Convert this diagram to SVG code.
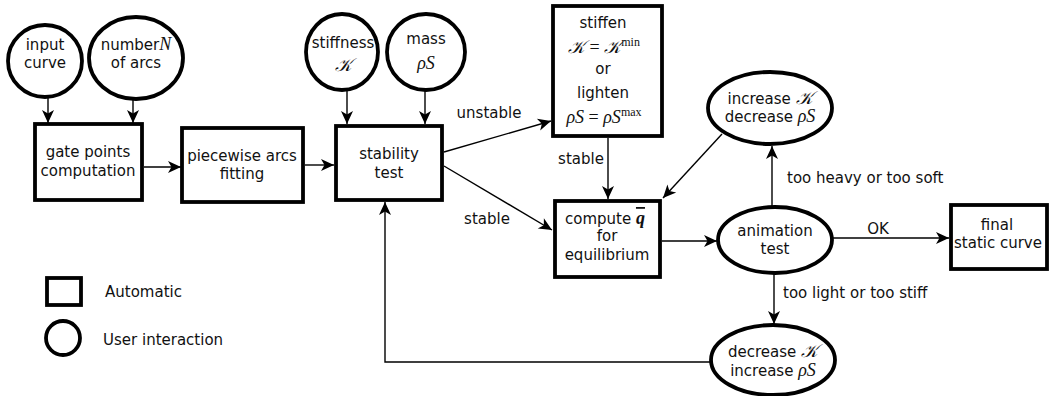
<svg xmlns="http://www.w3.org/2000/svg" width="1049" height="396" viewBox="0 0 1049 396">
<defs>
<marker id="ah" markerUnits="userSpaceOnUse" markerWidth="16" markerHeight="14" viewBox="-14 -7 16 14" refX="0" refY="0" orient="auto">
<path d="M0,0 L-13,-6 L-9.5,0 L-13,6 Z" fill="#000"/>
</marker>
<style>
.n{fill:#fff;stroke:#000;stroke-width:3.8}
.t{font-family:"DejaVu Sans",sans-serif;font-size:15px;fill:#111;text-anchor:middle}
.l{font-family:"DejaVu Sans",sans-serif;font-size:15px;fill:#111}
.m{font-family:"Liberation Serif","DejaVu Serif",serif;font-style:italic;font-size:18px}
.sup{font-family:"Liberation Serif","DejaVu Serif",serif;font-style:normal;font-size:12px}
.c{fill:none;stroke:#000;stroke-width:1.4;marker-end:url(#ah)}
</style>
</defs>
<rect width="1049" height="396" fill="#fff"/>
<g id="connectors">
<line class="c" x1="48" y1="97" x2="48" y2="123"/>
<line class="c" x1="133" y1="99" x2="133" y2="123"/>
<line class="c" x1="144" y1="167" x2="181" y2="167"/>
<line class="c" x1="305" y1="165" x2="334" y2="165"/>
<line class="c" x1="347" y1="90" x2="347" y2="124"/>
<line class="c" x1="425" y1="90" x2="425" y2="124"/>
<line class="c" x1="444" y1="152" x2="551" y2="121"/>
<line class="c" x1="444" y1="166" x2="552" y2="230"/>
<line class="c" x1="608" y1="138" x2="608" y2="199"/>
<line class="c" x1="722" y1="134" x2="663" y2="198"/>
<line class="c" x1="662" y1="241" x2="717" y2="241"/>
<line class="c" x1="772" y1="207" x2="772" y2="146"/>
<line class="c" x1="833" y1="238" x2="949" y2="238"/>
<line class="c" x1="774" y1="273" x2="774" y2="324"/>
<path class="c" d="M711,362 L385,362 L385,202"/>
</g>
<g id="input-curve">
<ellipse class="n" cx="45" cy="61" rx="37" ry="36"/>
<text class="t" x="45" y="50">input</text>
<text class="t" x="45" y="68">curve</text>
</g>
<g id="number-arcs">
<ellipse class="n" cx="136" cy="58" rx="47" ry="41"/>
<text class="t" x="136" y="50">number<tspan class="m">N</tspan></text>
<text class="t" x="136" y="68">of arcs</text>
</g>
<g id="gate-points">
<rect class="n" x="35" y="124" width="107" height="76"/>
<text class="t" x="88" y="157">gate points</text>
<text class="t" x="88" y="176">computation</text>
</g>
<g id="piecewise">
<rect class="n" x="182" y="128" width="121" height="74"/>
<text class="t" x="242" y="161">piecewise arcs</text>
<text class="t" x="242" y="179">fitting</text>
</g>
<g id="stiffness">
<ellipse class="n" cx="342" cy="52" rx="36" ry="38"/>
<text class="t" x="343" y="48">stiffness</text>
<text class="t m" x="343" y="71">𝒦</text>
</g>
<g id="mass">
<ellipse class="n" cx="426" cy="52" rx="39" ry="38"/>
<text class="t" x="426" y="44">mass</text>
<text class="t m" x="426" y="69">ρS</text>
</g>
<g id="stability">
<rect class="n" x="336" y="126" width="106" height="74"/>
<text class="t" x="389" y="159">stability</text>
<text class="t" x="389" y="178">test</text>
</g>
<g id="stiffen">
<rect class="n" x="553" y="6" width="109" height="130"/>
<text class="t" x="603" y="28">stiffen</text>
<text class="t m" x="604" y="53"><tspan>𝒦</tspan><tspan font-style="normal"> = </tspan><tspan>𝒦</tspan><tspan class="sup" dy="-7">min</tspan></text>
<text class="t" x="603" y="74">or</text>
<text class="t" x="603" y="98">lighten</text>
<text class="t m" x="604" y="123">ρS<tspan font-style="normal"> = </tspan>ρS<tspan class="sup" dy="-7">max</tspan></text>
</g>
<g id="compute">
<rect class="n" x="555" y="201" width="105" height="76"/>
<text class="t" x="605" y="224">compute <tspan font-family="Liberation Serif,serif" font-weight="bold" font-style="italic" font-size="18px" text-decoration="overline">q</tspan></text>
<text class="t" x="607" y="241">for</text>
<text class="t" x="607" y="260">equilibrium</text>
</g>
<g id="increase">
<ellipse class="n" cx="770" cy="108" rx="62" ry="36"/>
<text class="t" x="770" y="104">increase <tspan class="m">𝒦</tspan></text>
<text class="t" x="770" y="122">decrease <tspan class="m">ρS</tspan></text>
</g>
<g id="animation">
<ellipse class="n" cx="775" cy="240" rx="57" ry="33"/>
<text class="t" x="775" y="236">animation</text>
<text class="t" x="775" y="254">test</text>
</g>
<g id="final">
<rect class="n" x="951" y="205" width="96" height="64"/>
<text class="t" x="997" y="230">final</text>
<text class="t" x="998" y="248">static curve</text>
</g>
<g id="decrease">
<ellipse class="n" cx="773" cy="360" rx="62" ry="35"/>
<text class="t" x="773" y="357">decrease <tspan class="m">𝒦</tspan></text>
<text class="t" x="773" y="376">increase  <tspan class="m">ρS</tspan></text>
</g>
<g id="labels">
<text class="t" x="489" y="118">unstable</text>
<text class="t" x="581" y="164">stable</text>
<text class="t" x="487" y="224">stable</text>
<text class="l" x="787" y="183">too heavy or too soft</text>
<text class="t" x="878" y="234">OK</text>
<text class="l" x="783" y="298">too light or too stiff</text>
</g>
<g id="legend">
<rect class="n" x="47" y="278" width="34" height="27"/>
<text class="l" x="105" y="297">Automatic</text>
<circle class="n" cx="63" cy="338" r="17"/>
<text class="l" x="103" y="345">User interaction</text>
</g>
</svg>
